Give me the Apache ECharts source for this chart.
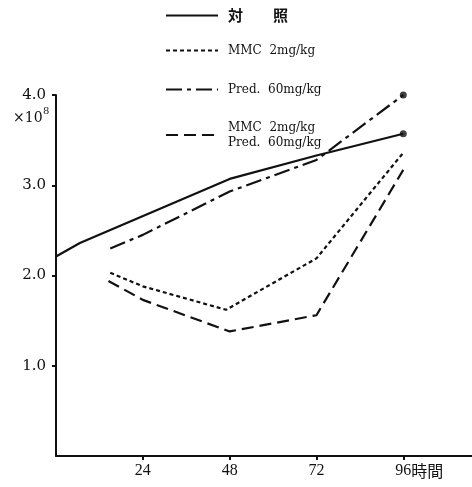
<!DOCTYPE html>
<html><head><meta charset="utf-8">
<script src="https://cdn.jsdelivr.net/npm/echarts@6/dist/echarts.min.js"></script>
<style>html,body{margin:0;padding:0;background:#fff}#c{width:472px;height:487px}</style>
</head><body><div id="c"></div>
<script>
// ---- data (time in hours, cell count ×10^8) ----
const seriesNames = ['対照', 'MMC  2mg/kg', 'Pred.  60mg/kg', 'MMC  2mg/kg\nPred.  60mg/kg'];
const hoursControl = [0, 6.6, 48, 72, 96];
const valuesControl = [2.21, 2.36, 3.07, 3.33, 3.57];
const hoursMMC = [15, 24, 47, 72, 96];
const valuesMMC = [2.03, 1.88, 1.62, 2.19, 3.36];
const hoursPred = [15, 24, 48, 72, 96];
const valuesPred = [2.30, 2.45, 2.93, 3.28, 4.0];
const hoursCombo = [14.5, 24, 48, 72, 96];
const valuesCombo = [1.94, 1.73, 1.38, 1.56, 3.17];
const xTicks = [24, 48, 72, 96];
const yTicks = [1, 2, 3, 4];
const xUnit = '時間';
const yUnitBase = '×10';
const yUnitExp = '8';

const zip = (h, v) => h.map((x, i) => [x, v[i]]);
const serif = 'DejaVu Serif';
const black = '#111';

const chart = echarts.init(document.getElementById('c'), null, {renderer: 'canvas'});
const lineSeries = (name, h, v, type) => ({
  name, type: 'line', data: zip(h, v), symbol: 'none', clip: false,
  lineStyle: {color: black, width: 2.2, type: type}, itemStyle: {color: black}
});
const legendAt = (name, top) => ({
  data: [name], left: 165, top: top, orient: 'vertical', padding: 0,
  itemWidth: 52, itemHeight: 14, selectedMode: false,
  itemStyle: {opacity: 0},
  formatter: n => n === '対照' ? '対　　照' : n,
  textStyle: name === '対照'
    ? {fontFamily: 'Noto Sans CJK JP', fontWeight: 'bold', fontSize: 15, color: black, padding: [0, 0, 0, 5]}
    : {fontFamily: serif, fontSize: 12, color: black, lineHeight: 15, padding: [0, 0, 0, 5]}
});

chart.setOption({
  animation: false,
  backgroundColor: '#fff',
  grid: {left: 56, right: 0, top: 95, bottom: 31},
  xAxis: {
    type: 'value', min: 0, max: 115, interval: 24,
    axisLine: {lineStyle: {color: black, width: 2}},
    axisTick: {show: true, customValues: xTicks, length: 4, lineStyle: {color: black, width: 2}},
    axisLabel: {
      customValues: xTicks, margin: 7, color: black, fontFamily: 'Liberation Serif', fontSize: 16,
      formatter: v => v === 96 ? '{n|' + v + '}{j|' + xUnit + '}' : String(v),
      rich: {
        n: {fontFamily: 'Liberation Serif', fontSize: 16, color: black, padding: [0, 0, 0, 32]},
        j: {fontFamily: 'Noto Sans CJK JP', fontSize: 16, color: black}
      }
    },
    splitLine: {show: false}
  },
  yAxis: {
    type: 'value', min: 0, max: 4, interval: 1,
    axisLine: {show: true, lineStyle: {color: black, width: 2}},
    axisTick: {show: true, customValues: yTicks, length: 4, lineStyle: {color: black, width: 2}},
    axisLabel: {customValues: yTicks, margin: 10, color: black, fontFamily: serif, fontSize: 15,
      formatter: v => v.toFixed(1)},
    splitLine: {show: false}
  },
  legend: [legendAt(seriesNames[0], 8), legendAt(seriesNames[1], 43), legendAt(seriesNames[2], 82), legendAt(seriesNames[3], 120)],
  graphic: [
    {type: 'text', left: 13, top: 111, style: {text: yUnitBase, fontFamily: serif, fontSize: 14, fill: black}},
    {type: 'text', left: 43, top: 106, style: {text: yUnitExp, fontFamily: serif, fontSize: 10, fill: black}}
  ],
  series: [
    lineSeries(seriesNames[0], hoursControl, valuesControl, 'solid'),
    lineSeries(seriesNames[1], hoursMMC, valuesMMC, [4, 3]),
    lineSeries(seriesNames[2], hoursPred, valuesPred, [16, 5, 4, 5]),
    lineSeries(seriesNames[3], hoursCombo, valuesCombo, [12, 6]),
    {name: 'end', type: 'scatter', symbol: 'circle', symbolSize: 7, itemStyle: {color: black}, clip: false,
     data: [[hoursControl[4], valuesControl[4]], [hoursPred[4], valuesPred[4]]]}
  ]
});
</script></body></html>
